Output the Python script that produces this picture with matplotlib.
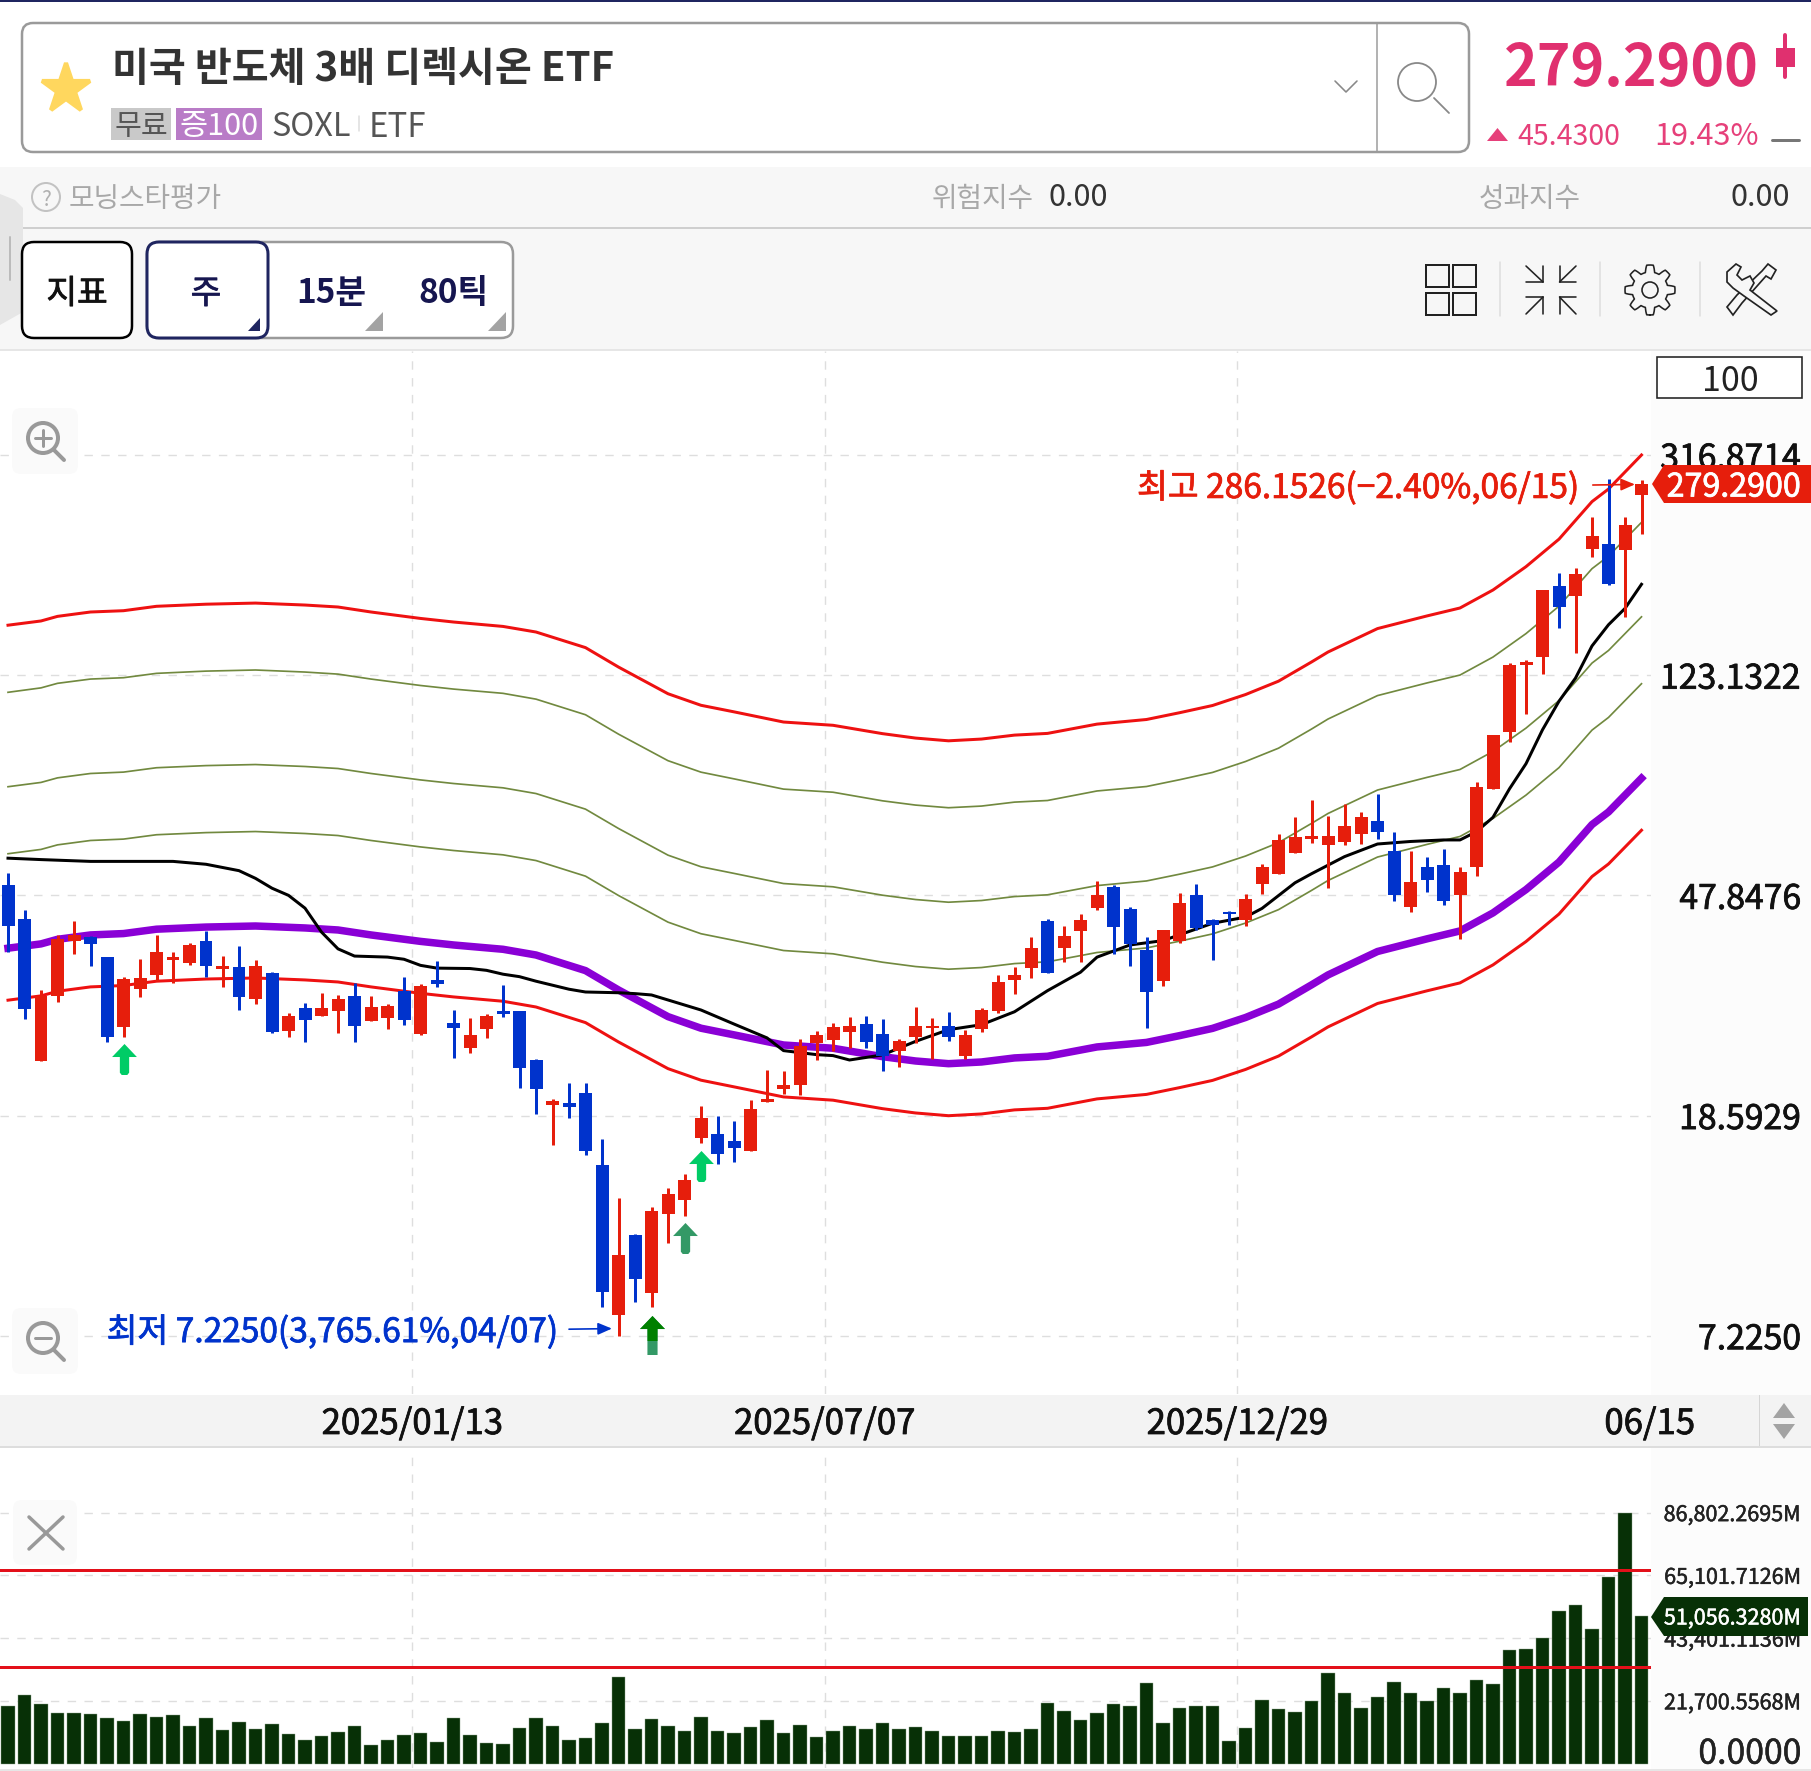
import numpy as np
import matplotlib
matplotlib.use("Agg")
import matplotlib.pyplot as plt
import matplotlib.patheffects as pe
from matplotlib.patches import Rectangle, FancyBboxPatch, Polygon, Circle
from matplotlib.path import Path

plt.rcParams['font.family'] = ['Noto Sans CJK KR', 'DejaVu Sans']

W, H = 1811, 1771

# ---------- data ----------
high = [52.76,44.9,31.87,40.36,42.8,40.24,36.73,33.63,36.45,40.42,37.45,39.03,41.0,36.85,38.42,36.3,34.37,28.9,30.2,31.48,
        31.26,32.88,31.0,30.07,33.69,32.67,36.1,29.2,28.25,28.72,32.57,29.18,23.67,20.0,21.4,21.4,16.84,13.04,11.2,12.57,
        13.65,14.44,19.34,18.59,18.17,19.86,22.58,22.5,25.8,26.74,27.65,28.43,28.5,28.1,25.8,29.58,28.27,29.05,26.85,29.45,
        34.04,35.24,39.97,43.3,41.9,44.1,50.9,50.1,45.5,40.0,41.3,48.4,50.2,43.3,44.7,48.1,54.8,62.2,66.9,72.0,
        67.4,70.8,68.4,74.0,62.8,57.8,56.4,58.3,54.0,78.0,95.3,130.0,131.5,177.8,191.1,194.9,242.5,286.15,242.5,285.0]
low = [37.45,28.2,23.5,30.26,37.15,35.27,25.5,26.1,30.87,33.07,32.78,35.47,33.69,32.27,29.26,30.07,26.47,26.0,25.46,28.46,
       26.55,25.5,27.85,26.94,27.4,26.25,32.3,23.76,24.34,25.95,28.4,20.97,18.75,16.4,18.4,15.7,8.18,7.225,8.35,8.16,
       10.74,12.1,16.5,15.1,15.2,16.0,19.7,20.4,20.3,23.57,24.57,24.83,24.8,22.55,22.94,25.4,23.7,25.6,23.75,26.6,
       28.93,31.35,33.55,34.25,35.9,36.0,45.0,37.2,35.4,27.1,32.45,39.0,41.2,36.2,42.2,42.0,48.1,52.4,57.5,59.9,
       49.4,59.3,59.6,60.9,46.7,44.5,48.6,46.0,39.6,52.1,75.6,92.3,104.2,124.0,151.0,135.4,204.7,181.3,158.0,226.0]
open_ = [49.99,43.3,23.5,31.1,39.33,39.93,36.73,27.2,32.07,34.0,36.3,35.85,39.4,34.84,35.2,30.68,34.3,26.68,29.5,28.55,
         29.1,31.0,27.9,28.3,31.75,26.4,33.2,27.65,24.83,27.0,29.18,29.15,23.65,19.45,19.6,20.46,15.03,7.89,11.15,8.67,
         12.17,12.93,16.9,17.15,16.7,16.0,19.7,20.85,21.2,25.36,25.7,26.66,27.55,26.35,24.5,26.0,27.1,27.27,24.05,26.95,
         29.14,33.2,35.04,42.9,38.25,41.1,45.4,49.7,45.1,37.9,33.1,39.4,47.85,43.1,44.6,43.0,50.3,52.4,57.5,60.9,
         59.5,60.1,62.2,65.8,58.0,45.6,54.1,54.6,47.9,54.0,75.6,96.3,128.9,133.0,180.7,173.0,212.0,216.6,211.0,266.8]
close = [42.0,29.4,31.1,39.75,40.36,38.85,26.0,33.38,33.6,37.6,36.65,38.6,35.27,35.27,30.87,35.37,26.6,28.46,28.05,29.55,
         30.63,27.3,29.6,29.7,28.05,32.47,32.67,27.1,26.25,28.5,28.72,22.8,20.87,19.8,19.3,16.0,8.72,10.21,9.2,12.33,
         13.25,14.1,18.38,15.73,16.15,19.15,19.96,21.16,25.07,26.28,27.2,27.27,25.55,24.05,25.6,27.3,27.27,26.1,26.28,29.25,
         32.95,34.0,38.2,34.25,40.2,43.1,47.85,41.8,38.9,31.6,41.2,46.4,41.6,42.05,44.2,47.2,54.0,60.7,61.5,61.7,
         61.8,64.5,67.0,62.9,47.9,50.6,51.2,46.7,52.8,76.2,95.3,128.4,130.3,177.6,164.8,190.5,224.2,182.4,234.8,279.29]

band_x = [0,2,3,5,7,9,12,15,18,20,22,25,27,30,32,35,37,40,42,44,47,50,53,55,57,59,61,63,66,69,71,73,75,77,79,80,83,86,88,90,92,94,96,97,99]
band_400 = [152.6,155.4,158.5,161.5,162.4,165.5,167.0,167.8,166.4,165.0,161.5,157.1,154.7,151.8,148.2,138.6,127.5,113.7,108.2,105.2,100.7,99.3,95.8,94.0,92.9,
            93.6,95.2,95.9,99.8,101.8,104.8,108.1,113.3,120.0,130.3,136.0,150.4,158.8,164.3,177.5,196.2,220.8,259.4,273.8,316.9]
band_300 = [114.4,116.6,118.9,121.1,121.8,124.1,125.3,125.9,124.8,123.7,121.1,117.8,116.0,113.9,111.1,103.9,95.6,85.3,81.2,78.9,75.5,74.5,71.8,70.5,69.7,
            70.2,71.4,71.9,74.9,76.35,78.6,81.1,85.0,90.0,97.7,102.0,112.8,119.1,123.2,133.1,147.2,165.6,194.5,205.3,237.3]
band_200 = [76.28,77.7,79.24,80.74,81.22,82.76,83.52,83.9,83.2,82.48,80.74,78.54,77.34,75.92,74.08,69.28,63.76,56.86,54.1,52.58,50.34,49.64,47.88,47.0,46.46,
            46.8,47.6,47.96,49.9,50.9,52.4,54.06,56.64,60.0,65.16,68.0,75.2,79.4,82.14,88.76,98.1,110.4,129.7,136.9,158.2]
band_150 = [57.21,58.28,59.43,60.56,60.92,62.07,62.64,62.93,62.4,61.86,60.56,58.91,58.01,56.94,55.56,51.96,47.82,42.65,40.58,39.44,37.76,37.23,35.91,35.25,34.85,
            35.1,35.7,35.97,37.44,38.18,39.3,40.55,42.48,45.0,48.87,51.0,56.4,59.55,61.61,66.57,73.58,82.8,97.26,102.7,118.7]
band_100 = [38.14,38.85,39.62,40.37,40.61,41.38,41.76,41.95,41.6,41.24,40.37,39.27,38.67,37.96,37.04,34.64,31.88,28.43,27.05,26.29,25.17,24.82,23.94,23.5,23.23,
            23.4,23.81,23.98,24.96,25.45,26.2,27.03,28.32,30.0,32.58,34.0,37.6,39.7,41.07,44.38,49.05,55.2,64.84,68.44,79.1]
band_80 = [30.51,31.08,31.7,32.3,32.49,33.1,33.41,33.56,33.28,32.99,32.3,31.42,30.94,30.37,29.63,27.71,25.5,22.74,21.64,21.03,20.14,19.86,19.15,18.8,18.58,
           18.72,19.05,19.18,19.97,20.36,20.96,21.62,22.66,24.0,26.06,27.2,30.08,31.76,32.86,35.5,39.24,44.16,51.87,54.75,63.28]

ma_x = [0,2,5,10,12,14,15,16,17,18,19,20,21,23,24,25,26,28,29,30,31,32,34,35,37,38,39,42,44,46,47,49,50,51,53,55,57,59,61,63,65,66,68,70,72,73,75,76,78,79,81,83,85,87,88,89,90,91,92,93,94,95,96,97,98,99]
ma_y = [56.13,55.79,55.36,55.36,54.68,53.2,51.47,49.34,47.85,45.29,40.87,38.03,36.87,36.71,36.37,35.43,35.01,34.95,34.68,34.11,33.75,33.1,31.98,31.6,31.5,31.38,31.2,29.25,27.54,25.95,24.57,24.15,24.05,23.6,24.12,25.56,26.88,27.46,29.03,31.78,34.4,36.7,38.67,39.4,41.4,42.44,43.58,45.24,50.5,52.5,56.5,59.65,60.3,60.7,60.7,62.9,66.9,75.6,84.2,97.4,110.1,121.6,139.6,152.9,164.0,181.9]

volume = [20057,23630,20633,17521,17521,17060,15792,14639,17060,16023,16829,12910,15907,11642,14409,12103,13717,10374,8069,9683,
          11066,13026,6570,8069,10028,10720,7493,15792,9913,7262,6916,12449,15677,12910,8069,8991,14178,29855,11873,15561,
          13026,11181,16253,11412,10605,12680,14985,10490,13256,9106,11412,13141,12103,13948,11873,12795,11412,9683,9452,9452,
          11412,10835,11873,20864,18328,15216,17406,20749,19942,28011,13948,19135,19942,20057,7723,12219,21901,19020,17982,21555,
          31238,24553,19135,23169,28356,24322,21555,26051,24437,29048,27665,39307,39768,43342,52794,54984,46684,64436,86802.2695,51056.328]
vol_levels = [33500, 66900]

price_ticks = [316.8714, 123.1322, 47.8476, 18.5929, 7.2250]
price_labels = ['316.8714', '123.1322', '47.8476', '18.5929', '7.2250']
vol_ticks = [86802.2695, 65101.7126, 43401.1136, 21700.5568, 0.0]
vol_labels = ['86,802.2695M', '65,101.7126M', '43,401.1136M', '21,700.5568M', '0.0000']
date_idx = [24.5, 49.5, 74.5, 99.5]
date_labels = ['2025/01/13', '2025/07/07', '2025/12/29', '06/15']
signal_idx = [7, 41, 42]
signal_price = [23.75, 11.0, 14.95]
signal_color = ['#00cc66', '#339966', '#00cc66']

# ---------- figure ----------
fig = plt.figure(figsize=(W / 100, H / 100), dpi=100, facecolor='white')
px = 0.72  # points per pixel


def heavy(artist, color, width=0.55):
    artist.set_path_effects([pe.withStroke(linewidth=width, foreground=color)])


def rect_axes(x0, y0, x1, y1, **kw):
    return fig.add_axes([x0 / W, 1 - y1 / H, (x1 - x0) / W, (y1 - y0) / H], **kw)


bg = rect_axes(0, 0, W, H, zorder=0)
bg.set_xlim(0, W); bg.set_ylim(H, 0); bg.axis('off')
fg = rect_axes(0, 0, W, H, zorder=5)
fg.set_xlim(0, W); fg.set_ylim(H, 0); fg.axis('off'); fg.patch.set_alpha(0)


def rrect(ax, x0, y0, x1, y1, r=10, fc='white', ec='none', lw=1, z=2):
    p = FancyBboxPatch((x0 + r, y0 + r), x1 - x0 - 2 * r, y1 - y0 - 2 * r,
                       boxstyle=f'round,pad={r},rounding_size={r}', fc=fc, ec=ec, lw=lw * px, zorder=z)
    ax.add_patch(p)
    return p


def seg(ax, xs, ys, c='#333333', lw=2, z=4, **kw):
    ax.plot(xs, ys, color=c, lw=lw * px, zorder=z, solid_capstyle='round', solid_joinstyle='round', **kw)


def txt(ax, x, y, s, size, c='#333333', ha='left', w='normal', z=6, strong=False):
    t = ax.text(x, y, s, fontsize=size, color=c, ha=ha, va='center_baseline', fontweight=w, zorder=z)
    if strong:
        heavy(t, c)
    return t


# chrome backgrounds
bg.add_patch(Rectangle((0, 0), W, 2, fc='#1f2560', ec='none'))
bg.add_patch(Rectangle((0, 167), W, 183, fc='#f7f7f7', ec='none'))
bg.add_patch(Rectangle((0, 227), W, 1.5, fc='#cfcfcf', ec='none'))
bg.add_patch(Rectangle((0, 349), W, 1.5, fc='#e6e6e6', ec='none'))
bg.add_patch(Rectangle((1651, 351), W - 1651, H - 351, fc='#fcfcfc', ec='none'))
bg.add_patch(Rectangle((0, 1395), W, 51, fc='#f3f3f3', ec='none', zorder=1))
bg.add_patch(Rectangle((0, 1446), W, 1.5, fc='#dddddd', ec='none', zorder=1))
bg.add_patch(Rectangle((0, 1769), W, 2, fc='#e6e6e6', ec='none', zorder=1))
bg.add_patch(Rectangle((1759, 1395), 1, 51, fc='#d5d5d5', ec='none', zorder=2))
bg.add_patch(Polygon([[1773, 1418], [1795, 1418], [1784, 1403]], fc='#a3a3a3', ec='none', zorder=2))
bg.add_patch(Polygon([[1773, 1424], [1795, 1424], [1784, 1439]], fc='#a3a3a3', ec='none', zorder=2))

# search box
rrect(bg, 22, 23, 1469, 152, r=11, fc='white', ec='#9a9a9a', lw=2.5)
seg(bg, [1376.5, 1376.5], [24, 151], c='#9a9a9a', lw=1.5)
bg.plot([66], [89], marker='*', ms=46 * px * 1.12, color='#ffd75e', mec='#ffd75e', mew=3, mfc='#ffd75e', zorder=4)
txt(bg, 112, 65, '미국 반도체 3배 디렉시온 ETF', 28.9, '#333333', w='bold')
bg.add_patch(Rectangle((111, 108), 60, 32, fc='#c9c9c9', ec='none', zorder=3))
bg.add_patch(Rectangle((176, 108), 86, 32, fc='#b97cc7', ec='none', zorder=3))
txt(bg, 141, 123, '무료', 21, '#555555', ha='center')
txt(bg, 219, 123, '증100', 22, 'white', ha='center')
txt(bg, 271, 123, 'SOXL', 23.4, '#555555')
txt(bg, 369, 123, 'ETF', 23.8, '#555555')
seg(bg, [359, 359], [116, 131], c='#dddddd', lw=1.5)
seg(bg, [1335, 1346, 1357], [81, 92, 81], c='#888888', lw=1.6)
bg.add_patch(Circle((1417, 82), 19, fc='none', ec='#888888', lw=1.8 * px, zorder=4))
seg(bg, [1434, 1449], [98, 113], c='#888888', lw=1.8)

# price header
txt(bg, 1504, 63, '279.2900', 41.2, '#e0306f', w='bold')
bg.add_patch(Rectangle((1776, 48), 19, 19, fc='#e0306f', ec='none', zorder=8))
seg(bg, [1785, 1785], [35, 77], c='#e0306f', lw=4, z=8)
bg.add_patch(Polygon([[1487, 141], [1508, 141], [1497.5, 128]], fc='#e6407a', ec='none', zorder=4))
txt(bg, 1517, 133, '45.4300', 20.5, '#e6407a')
txt(bg, 1654, 133, '19.43%', 22, '#e6407a')
seg(bg, [1772, 1799], [140, 140], c='#777777', lw=3)

# info row
bg.add_patch(Circle((46, 197), 14, fc='none', ec='#c2c2c2', lw=2 * px, zorder=4))
txt(bg, 46, 197, '?', 15, '#b0b0b0', ha='center')
txt(bg, 69, 195, '모닝스타평가', 20, '#a8a8a8')
txt(bg, 932, 195, '위험지수', 20, '#a8a8a8')
txt(bg, 1048, 194, '0.00', 22, '#333333')
txt(bg, 1479, 195, '성과지수', 20, '#a8a8a8')
txt(bg, 1731, 194, '0.00', 22, '#333333')

# buttons
bg.add_patch(Polygon([[0, 194], [15, 200], [23, 208], [23, 312], [0, 325]], fc='#e6e6e6', ec='none', zorder=2))
seg(bg, [10, 10], [237, 280], c='#bbbbbb', lw=2)
rrect(bg, 22, 242, 132, 338, r=12, fc='white', ec='black', lw=2.5)
rrect(bg, 147, 242, 513, 338, r=12, fc='white', ec='#9a9a9a', lw=2.5)
rrect(bg, 147, 242, 268, 338, r=12, fc='white', ec='#1f2560', lw=3, z=3)
txt(bg, 77, 290, '지표', 24, '#111111', ha='center', strong=True)
txt(bg, 206, 290, '주', 24, '#161650', ha='center', strong=True)
txt(bg, 331, 290, '15분', 24, '#161650', ha='center', w='bold')
txt(bg, 453, 290, '80틱', 24, '#161650', ha='center', w='bold')
bg.add_patch(Polygon([[248, 331], [260, 331], [260, 318]], fc='#1f2560', ec='none', zorder=4))
bg.add_patch(Polygon([[365, 331], [383, 331], [383, 312]], fc='#a3a3a3', ec='none', zorder=4))
bg.add_patch(Polygon([[488, 331], [506, 331], [506, 312]], fc='#a3a3a3', ec='none', zorder=4))

# tool icons
for x0, y0 in [(1426, 265), (1453, 265), (1426, 293), (1453, 293)]:
    bg.add_patch(Rectangle((x0, y0), 23, 22, fc='none', ec='#222222', lw=2 * px, zorder=4))
for xd in [1500, 1600, 1700]:
    seg(bg, [xd, xd], [262, 316], c='#dddddd', lw=1.5)
for cx, cy, hx, vy in [(1543, 282, 1526, 266), (1559.5, 282, 1576, 266), (1543, 297, 1526, 314), (1559.5, 297, 1576, 314)]:
    seg(bg, [hx, cx], [cy, cy], c='#222222', lw=1.6)
    seg(bg, [hx, cx], [vy, cy], c='#222222', lw=1.6)
    seg(bg, [cx, cx], [vy, cy], c='#222222', lw=1.6)
theta = np.linspace(0, 2 * np.pi, 193)
rad = 21.5 + 3.5 * np.clip(2.0 * np.cos(8 * theta), -1, 1)
bg.plot(1650 + rad * np.sin(theta), 290 + rad * np.cos(theta), color='#222222', lw=1.6 * px, zorder=4)
bg.add_patch(Circle((1650, 290), 8, fc='none', ec='#222222', lw=1.6 * px, zorder=4))
# screwdriver + wrench outline
bg.add_patch(Polygon([[1768, 264], [1776, 270], [1771, 279], [1766, 276], [1742, 303], [1733, 315], [1727, 307], [1737, 295], [1762, 271]],
                     closed=True, fc='#f7f7f7', ec='#222222', lw=1.7 * px, zorder=4))
bg.add_patch(Polygon([[1727, 272], [1736, 264], [1741, 267], [1737, 275], [1742, 280], [1750, 276], [1754, 283], [1750, 290],
                      [1777, 311], [1771, 315], [1744, 296], [1733, 288], [1727, 282]],
                     closed=True, fc='#f7f7f7', ec='#222222', lw=1.7 * px, zorder=4.5))

# ---------- price pane ----------
X0 = 8.0
STEP = 16.5
xlim = (-X0 / STEP, (1651 - X0) / STEP)
ax = rect_axes(0, 351, 1651, 1394, zorder=2)
ax.patch.set_alpha(0)
ax.set_yscale('log')
ax.set_xlim(*xlim)
ax.set_ylim(316.8714 * np.exp(-0.004293 * (1394 - 455)), 316.8714 * np.exp(0.004293 * (455 - 351)))
for s in ax.spines.values():
    s.set_visible(False)

GRID = dict(color='#dedede', lw=1.4 * px, dashes=(6, 6), zorder=1)
for t in price_ticks:
    ax.axhline(t, **GRID)
for d in date_idx[:3]:
    ax.axvline(d, **GRID)

ax.set_yticks(price_ticks)
ax.set_yticklabels(price_labels)
ax.minorticks_off()
ax.yaxis.tick_right()
ax.tick_params(axis='y', which='both', length=0, pad=150 * px, labelsize=24.3, labelcolor='#111111')
for lab in ax.get_yticklabels():
    lab.set_ha('right')
    heavy(lab, '#111111')
ax.set_xticks(date_idx)
ax.set_xticklabels(date_labels)
ax.tick_params(axis='x', which='both', length=0, pad=13 * px, labelsize=25, labelcolor='#111111')
ax.xaxis.set_ticks_position('bottom')
for lab in ax.get_xticklabels():
    heavy(lab, '#111111')

idx = np.arange(len(close))
RED, BLUE = '#e61e0c', '#0033cc'
cols = [RED if c > o else BLUE for o, c in zip(open_, close)]
ax.plot(band_x, band_400, color='#ee1111', lw=3 * px, zorder=3)
ax.plot(band_x, band_300, color='#71893f', lw=1.7 * px, zorder=3)
ax.plot(band_x, band_200, color='#71893f', lw=1.7 * px, zorder=3)
ax.plot(band_x, band_150, color='#71893f', lw=1.7 * px, zorder=3)
ax.plot(band_x, band_100, color='#8a00d6', lw=7.5 * px, zorder=3)
ax.plot(band_x, band_80, color='#ee1111', lw=3 * px, zorder=3)
ax.plot(ma_x, ma_y, color='black', lw=3 * px, zorder=3.2)

ax.vlines(idx, low, high, colors=cols, lw=3 * px, zorder=4)
bottoms = np.minimum(open_, close)
heights = np.abs(np.array(close) - np.array(open_))
ax.bar(idx, heights, bottom=bottoms, width=13 / STEP, color=cols, edgecolor='none', zorder=5)

arrow_path = Path([(-0.8, 0.16), (0, 1.0), (0.8, 0.16), (0.3, 0.16), (0.3, -0.85), (0.18, -1.0), (-0.18, -1.0),
                   (-0.3, -0.85), (-0.3, 0.16), (-0.8, 0.16)], closed=False)
for i, p, c in zip(signal_idx, signal_price, signal_color):
    ax.plot([i], [p], marker=arrow_path, ms=31 * px, color=c, mec='none', zorder=6, ls='none', clip_on=False)
tall_arrow = Path([(-0.64, 0.33), (0, 1.0), (0.64, 0.33), (0.26, 0.33), (0.26, -1.0), (-0.26, -1.0), (-0.26, 0.33), (-0.64, 0.33)])
dark_arrow = Path([(-1.0, -0.04), (0, 1.0), (1.0, -0.04), (0.4, -0.04), (0.4, -1.0), (-0.4, -1.0), (-0.4, -0.04), (-1.0, -0.04)])
ax.plot([39], [7.26], marker=tall_arrow, ms=39 * px, color='#339966', mec='none', zorder=6, ls='none', clip_on=False)
ax.plot([39], [7.48], marker=dark_arrow, ms=25 * px, color='#008000', mec='none', zorder=6.1, ls='none', clip_on=False)

a1 = ax.annotate('최고 286.1526(−2.40%,06/15)', xy=(98.6, 279.29), xytext=(-56, 0), textcoords='offset pixels',
                 color=RED, fontsize=24.1, ha='right', va='center_baseline', zorder=7,
                 arrowprops=dict(arrowstyle='-|>,head_width=0.15,head_length=0.35', color=RED, lw=1.2, shrinkA=8, shrinkB=0))
a2 = ax.annotate('최저 7.2250(3,765.61%,04/07)', xy=(36.6, 7.45), xytext=(-54, 0), textcoords='offset pixels',
                 color=BLUE, fontsize=24.1, ha='right', va='center_baseline', zorder=7,
                 arrowprops=dict(arrowstyle='-|>,head_width=0.15,head_length=0.35', color=BLUE, lw=1.2, shrinkA=6, shrinkB=0))
heavy(a1, RED)
heavy(a2, BLUE)

# ---------- volume pane ----------
VPX = 86802.2695 / (1763.6 - 1512.6)
vx = rect_axes(0, 1449, 1651, 1768, zorder=2)
vx.patch.set_alpha(0)
vx.set_xlim(*xlim)
vx.set_ylim(-(1768 - 1763.6) * VPX, (1763.6 - 1449) * VPX)
for s in vx.spines.values():
    s.set_visible(False)
for t in vol_ticks[:-1]:
    vx.axhline(t, **GRID)
for d in date_idx[:3]:
    vx.axvline(d, **GRID)
vx.bar(idx, volume, width=13.3 / STEP, color='#073006', edgecolor='#8aa088', lw=0.3, zorder=3)
for lv in vol_levels:
    vx.axhline(lv, color='#e3101a', lw=3 * px, zorder=4)
vx.set_xticks([])
vx.set_yticks(vol_ticks)
vx.set_yticklabels(vol_labels)
vx.yaxis.tick_right()
vx.tick_params(axis='y', length=0, pad=150 * px, labelsize=15.5, labelcolor='#222222')
for lab in vx.get_yticklabels():
    lab.set_ha('right')
    heavy(lab, '#222222', 0.35)
zero = vx.get_yticklabels()[-1]
zero.set_fontsize(24.3)
zero.set_va('baseline')

# ---------- overlays ----------
fg.add_patch(Polygon([[1652, 484], [1664, 465], [W, 465], [W, 503], [1664, 503]], fc='#e61e0c', ec='none', zorder=3))
txt(fg, 1801, 484, '279.2900', 23.2, 'white', ha='right', strong=True)
fg.add_patch(Polygon([[1651, 1617], [1664, 1597], [1808, 1597], [1808, 1636], [1664, 1636]], fc='#073006', ec='none', zorder=3))
t = txt(fg, 1801, 1616, '51,056.3280M', 15.5, 'white', ha='right')
heavy(t, 'white', 0.35)
fg.add_patch(Rectangle((1657, 357), 145, 41, fc='white', ec='#222222', lw=1.6 * px, zorder=3))
txt(fg, 1730, 377, '100', 24.5, '#222222', ha='center')

for y0, kind in [(408, 'plus'), (1308, 'minus')]:
    rrect(fg, 12, y0, 78, y0 + 66, r=9, fc='#fafafa', z=1)
    cy = y0 + 31
    fg.add_patch(Circle((43, cy - 1), 15, fc='none', ec='#999999', lw=4 * px, zorder=3))
    seg(fg, [54, 64], [cy + 11, cy + 21], c='#999999', lw=4)
    seg(fg, [35, 51], [cy - 1, cy - 1], c='#999999', lw=3)
    if kind == 'plus':
        seg(fg, [43, 43], [cy - 9, cy + 7], c='#999999', lw=3)
rrect(fg, 13, 1500, 77, 1565, r=9, fc='#fafafa', z=1)
seg(fg, [29, 63], [1517, 1549], c='#999999', lw=3.5)
seg(fg, [63, 29], [1517, 1549], c='#999999', lw=3.5)

fig.savefig('out.png', dpi=100)
